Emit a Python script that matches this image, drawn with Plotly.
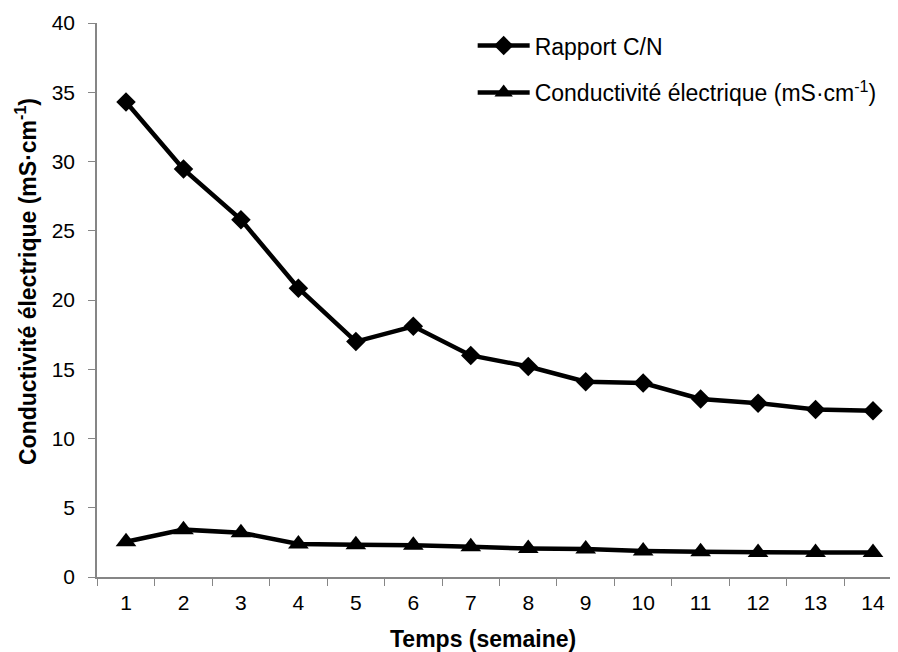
import plotly.graph_objects as go

weeks = [str(i) for i in range(1, 15)]
ratio_cn = [34.3, 29.45, 25.8, 20.85, 17.0, 18.1, 16.0, 15.2, 14.1, 14.0, 12.85, 12.55, 12.1, 12.0]
conductivity = [2.55, 3.42, 3.2, 2.38, 2.32, 2.3, 2.18, 2.06, 2.03, 1.88, 1.82, 1.77, 1.77, 1.77]

x_title = "<b>Temps (semaine)</b>"
y_title = "<b>Conductivité électrique (mS·cm<sup>-1</sup>)</b>"

fig = go.Figure()
fig.add_trace(go.Scatter(
    x=weeks, y=ratio_cn, mode="lines+markers", name="Rapport C/N",
    line=dict(color="black", width=4.5),
    marker=dict(symbol="diamond", size=15, color="black"),
    legendgroup="a",
))
fig.add_trace(go.Scatter(
    x=weeks, y=conductivity, mode="lines+markers",
    name="Conductivité électrique (mS·cm<sup>-1</sup>)",
    line=dict(color="black", width=4.5),
    marker=dict(symbol="triangle-up", size=18, color="black"),
    legendgroup="b",
))

font_family = "Liberation Sans, Arial, sans-serif"
fig.update_layout(
    width=890, height=644,
    margin=dict(l=89, r=0, t=15, b=75),
    paper_bgcolor="white", plot_bgcolor="white",
    font=dict(family=font_family, size=21, color="black"),
    showlegend=True,
    legend=dict(x=0.469, y=0.998, xanchor="left", yanchor="top", itemwidth=52,
                font=dict(size=23), tracegroupgap=14, bgcolor="rgba(0,0,0,0)"),
    xaxis=dict(
        type="category", range=[-0.505, 13.435],
        showline=True, linecolor="#868686", linewidth=1.5,
        ticks="outside", tickson="boundaries", ticklen=7, tickcolor="#868686",
        showgrid=False, zeroline=False,
        tickfont=dict(size=21), ticklabelstandoff=6,
    ),
    yaxis=dict(
        range=[0, 40], dtick=5,
        showline=True, linecolor="#868686", linewidth=1.5,
        ticks="outside", ticklen=7, tickcolor="#868686",
        showgrid=False, zeroline=False,
        tickfont=dict(size=21), ticklabelstandoff=9,
    ),
    annotations=[
        dict(text=x_title, xref="paper", yref="paper", x=0.4825, y=-0.112,
             xanchor="center", yanchor="middle", showarrow=False,
             font=dict(size=23)),
        dict(text=y_title, xref="paper", yref="paper", x=-0.0886, y=0.5325,
             xanchor="center", yanchor="middle", showarrow=False, textangle=-90,
             font=dict(size=23)),
    ],
)

fig.write_html("out.html")
